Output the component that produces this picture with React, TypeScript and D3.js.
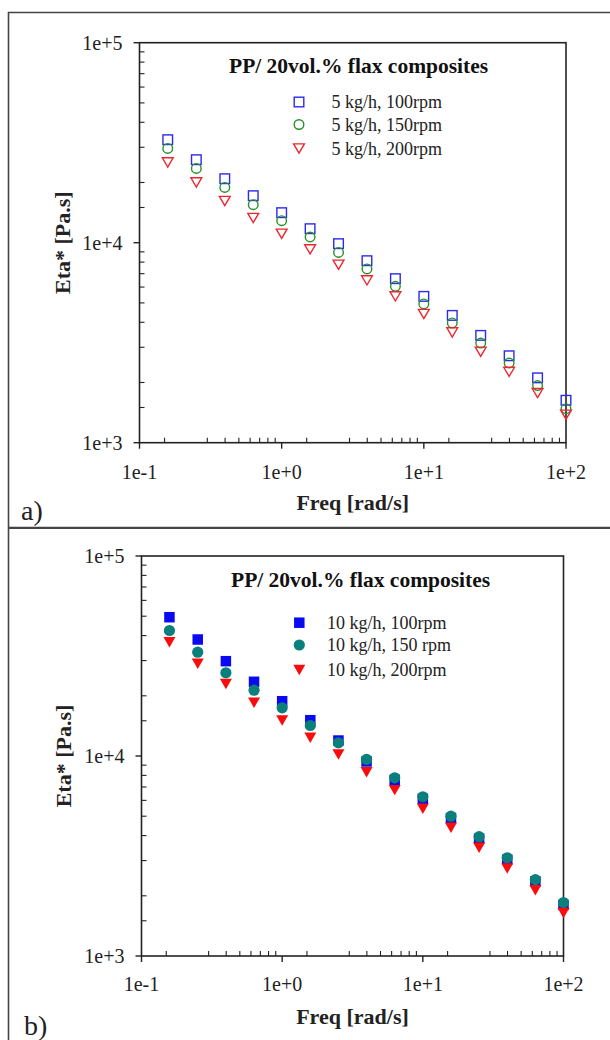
import React from "react";
import * as d3 from "d3";

// ---------- data ----------
const FREQ = [0.158, 0.251, 0.398, 0.631, 1, 1.585, 2.512, 3.981, 6.31, 10, 15.85, 25.12, 39.81, 63.1, 100];

const A_100RPM = [32730, 26000, 20890, 17180, 14130, 11750, 9890, 8130, 6610, 5390, 4330, 3440, 2720, 2110, 1630];
const A_150RPM = [29610, 23520, 18900, 15490, 12880, 10680, 8940, 7390, 6050, 4940, 3970, 3150, 2500, 1930, 1480];
const A_200RPM = [25200, 20020, 16170, 13290, 11090, 9260, 7760, 6480, 5390, 4400, 3560, 2850, 2260, 1770, 1380];

const B_100RPM = [49430, 38240, 29790, 23500, 18790, 15100, 11950, 9390, 7600, 6110, 4890, 3860, 3030, 2360, 1800];
const B_150RPM = [42410, 33040, 26060, 21330, 17420, 14210, 11640, 9610, 7780, 6250, 5000, 3950, 3100, 2410, 1850];
const B_200RPM = [37070, 28910, 22910, 18450, 15050, 12330, 10170, 8300, 6750, 5450, 4380, 3480, 2740, 2130, 1640];

const X_TICKS = [0.1, 1, 10, 100];
const X_TICK_LABELS = ["1e-1", "1e+0", "1e+1", "1e+2"];
const Y_TICKS = [1000, 10000, 100000];
const Y_TICK_LABELS = ["1e+3", "1e+4", "1e+5"];
const X_MINOR_MULT = [1.5, 3, 4, 5, 6, 7, 8, 9];
const Y_MINOR_MULT = [1.5, 2, 3, 4, 5, 6, 7, 8, 9];

const TITLE = "PP/ 20vol.% flax composites";
const X_LABEL = "Freq [rad/s]";
const Y_LABEL = "Eta* [Pa.s]";
const A_LABELS = ["5 kg/h, 100rpm", "5 kg/h, 150rpm", "5 kg/h, 200rpm"];
const B_LABELS = ["10 kg/h, 100rpm", "10 kg/h, 150 rpm", "10 kg/h, 200rpm"];
const A_COLORS = ["#2b2bea", "#23922a", "#ee2530"];
const B_COLORS = ["#0a0af2", "#0b7f7c", "#f80c0c"];
const SHAPES = ["square", "circle", "triangle"];

const FONT = "'Liberation Serif', 'Times New Roman', Times, serif";

type Shape = string;

function Marker({ shape, x, y, color, filled }: { shape: Shape; x: number; y: number; color: string; filled: boolean }) {
  const fill = filled ? color : "none";
  const sw = filled ? 0 : 1.4;
  if (shape === "square") {
    const s = filled ? 10.5 : 9.6;
    return <rect x={x - s / 2} y={y - s / 2} width={s} height={s} fill={fill} stroke={color} strokeWidth={sw} />;
  }
  if (shape === "circle") {
    const r = filled ? 5.6 : 4.8;
    return <circle cx={x} cy={y} r={r} fill={fill} stroke={color} strokeWidth={sw} />;
  }
  const hw = filled ? 6 : 5.4;
  const hh = filled ? 5.2 : 4.6;
  return (
    <path
      d={`M${x - hw},${y - hh}L${x + hw},${y - hh}L${x},${y + hh}Z`}
      fill={fill}
      stroke={color}
      strokeWidth={sw}
      strokeLinejoin="miter"
    />
  );
}

type PanelProps = {
  left: number;
  right: number;
  top: number;
  bottom: number;
  series: number[][];
  colors: string[];
  labels: string[];
  filled: boolean;
  titleX: number;
  titleY: number;
  legendMarkerX: number;
  legendTextX: number;
  legendY: number[];
  xLabelY: number;
  tickLabelY: number;
  yLabelX: number;
  tag: string;
  tagX: number;
  tagY: number;
};

function Panel(p: PanelProps) {
  const x = d3.scaleLog().domain([0.1, 100]).range([p.left, p.right]);
  const y = d3.scaleLog().domain([1000, 100000]).range([p.bottom, p.top]);
  const axisColor = "#222";
  const xMinor: number[] = [];
  for (let d = 0.1; d < 100; d *= 10) X_MINOR_MULT.forEach((m) => xMinor.push(d * m));
  const yMinor: number[] = [];
  for (let d = 1000; d < 100000; d *= 10) Y_MINOR_MULT.forEach((m) => yMinor.push(d * m));

  return (
    <g>
      {/* frame */}
      <rect x={p.left} y={p.top} width={p.right - p.left} height={p.bottom - p.top} fill="none" stroke={axisColor} strokeWidth={1.6} />
      {/* x ticks */}
      {X_TICKS.map((t, i) => (
        <g key={"xt" + i}>
          <line x1={x(t)} x2={x(t)} y1={p.bottom} y2={p.bottom + 6} stroke={axisColor} strokeWidth={1.4} />
          <text x={x(t)} y={p.tickLabelY} textAnchor="middle" fontFamily={FONT} fontSize={20} fill="#222">
            {X_TICK_LABELS[i]}
          </text>
        </g>
      ))}
      {xMinor.map((t, i) => (
        <line key={"xm" + i} x1={x(t)} x2={x(t)} y1={p.bottom} y2={p.bottom - 5} stroke={axisColor} strokeWidth={1.1} />
      ))}
      {/* y ticks */}
      {Y_TICKS.map((t, i) => (
        <g key={"yt" + i}>
          <line x1={p.left - 6} x2={p.left} y1={y(t)} y2={y(t)} stroke={axisColor} strokeWidth={1.4} />
          <text x={p.left - 17} y={y(t)} dy="0.35em" textAnchor="end" fontFamily={FONT} fontSize={20} fill="#222">
            {Y_TICK_LABELS[i]}
          </text>
        </g>
      ))}
      {yMinor.map((t, i) => (
        <line key={"ym" + i} x1={p.left} x2={p.left + 5} y1={y(t)} y2={y(t)} stroke={axisColor} strokeWidth={1.1} />
      ))}
      {/* axis labels */}
      <text x={(p.left + p.right) / 2} y={p.xLabelY} textAnchor="middle" fontFamily={FONT} fontWeight="bold" fontSize={22} fill="#222">
        {X_LABEL}
      </text>
      <text
        transform={`translate(${p.yLabelX},${(p.top + p.bottom) / 2}) rotate(-90)`}
        textAnchor="middle"
        dy="0.35em"
        fontFamily={FONT}
        fontWeight="bold"
        fontSize={22}
        fill="#222"
      >
        {Y_LABEL}
      </text>
      {/* title */}
      <text x={p.titleX} y={p.titleY} fontFamily={FONT} fontWeight="bold" fontSize={21.5} fill="#111">
        {TITLE}
      </text>
      {/* legend */}
      {p.labels.map((lab, i) => (
        <g key={"lg" + i}>
          <Marker shape={SHAPES[i]} x={p.legendMarkerX} y={p.legendY[i]} color={p.colors[i]} filled={p.filled} />
          <text x={p.legendTextX} y={p.legendY[i]} dy="0.35em" fontFamily={FONT} fontSize={18} fill="#222">
            {lab}
          </text>
        </g>
      ))}
      {/* data */}
      {p.series.map((vals, si) => (
        <g key={"s" + si}>
          {vals.map((v, i) => (
            <Marker key={i} shape={SHAPES[si]} x={x(FREQ[i])} y={y(v)} color={p.colors[si]} filled={p.filled} />
          ))}
        </g>
      ))}
      {/* panel tag */}
      <text x={p.tagX} y={p.tagY} fontFamily={FONT} fontSize={28} fill="#222">
        {p.tag}
      </text>
    </g>
  );
}

export default function App() {
  return (
    <svg
      width={610}
      height={1040}
      viewBox="0 0 610 1040"
      style={{ position: "fixed", left: 0, top: 0, background: "#fff", display: "block" }}
    >
      <rect x={0} y={0} width={610} height={1040} fill="#fff" />
      {/* panel borders */}
      <line x1={8} x2={612} y1={12.5} y2={12.5} stroke="#444" strokeWidth={1.6} />
      <line x1={8.5} x2={8.5} y1={12} y2={1042} stroke="#444" strokeWidth={1.6} />
      <line x1={8} x2={612} y1={527.8} y2={527.8} stroke="#444" strokeWidth={2.2} />

      <Panel
        left={139.5}
        right={566}
        top={42.7}
        bottom={442.7}
        series={[A_100RPM, A_150RPM, A_200RPM]}
        colors={A_COLORS}
        labels={A_LABELS}
        filled={false}
        titleX={229}
        titleY={72.7}
        legendMarkerX={299}
        legendTextX={331.5}
        legendY={[102, 124.5, 148.5]}
        xLabelY={510}
        tickLabelY={478.7}
        yLabelX={62}
        tag="a)"
        tagX={21}
        tagY={520}
      />
      <Panel
        left={141.5}
        right={563.5}
        top={556}
        bottom={956}
        series={[B_100RPM, B_150RPM, B_200RPM]}
        colors={B_COLORS}
        labels={B_LABELS}
        filled={true}
        titleX={231}
        titleY={587}
        legendMarkerX={299.3}
        legendTextX={327}
        legendY={[622.7, 645, 670]}
        xLabelY={1024}
        tickLabelY={991}
        yLabelX={63}
        tag="b)"
        tagX={24}
        tagY={1035}
      />
    </svg>
  );
}
